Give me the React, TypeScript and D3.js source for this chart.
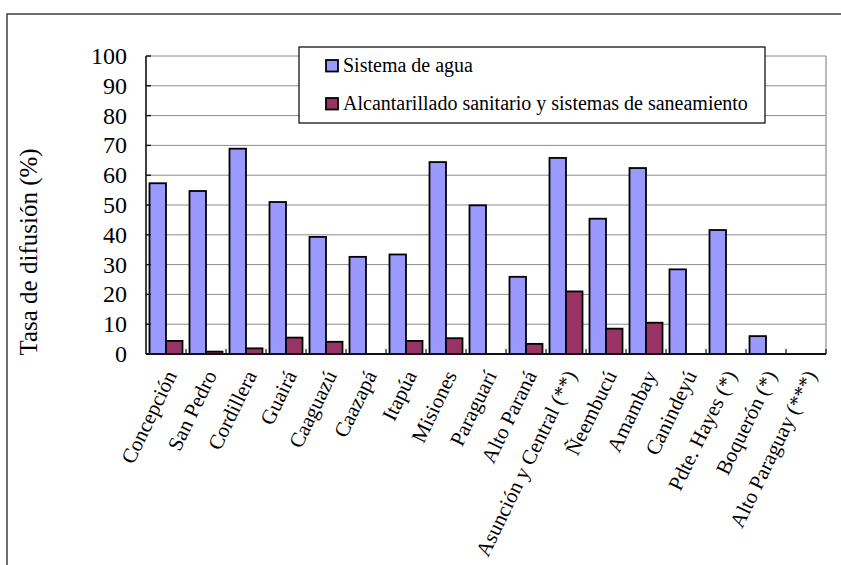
import React from "react";
import * as d3 from "d3";

const categories = [
  "Concepción",
  "San Pedro",
  "Cordillera",
  "Guairá",
  "Caaguazú",
  "Caazapá",
  "Itapúa",
  "Misiones",
  "Paraguarí",
  "Alto Paraná",
  "Asunción y Central (**)",
  "Ñeembucú",
  "Amambay",
  "Canindeyú",
  "Pdte. Hayes (*)",
  "Boquerón (*)",
  "Alto Paraguay (***)",
];

const seriesNames = [
  "Sistema de agua",
  "Alcantarillado sanitario y sistemas de saneamiento",
];

const aguaValues = [57.3, 54.7, 68.9, 51.0, 39.3, 32.6, 33.4, 64.4, 49.9, 25.9, 65.8, 45.4, 62.4, 28.4, 41.6, 6.0, 0];
const alcantValues = [4.4, 0.8, 1.9, 5.5, 4.1, 0, 4.4, 5.3, 0, 3.4, 21.0, 8.5, 10.5, 0, 0, 0, 0];

const yTicks = [0, 10, 20, 30, 40, 50, 60, 70, 80, 90, 100];
const colors = ["#9999FF", "#993366"];
const yTitle = "Tasa de difusión (%)";

const W = 841;
const H = 565;
const left = 146;
const right = 826;
const top = 56;
const bottom = 354;
const FONT = "Liberation Serif";
const ts = { fontFamily: FONT };

export default function App() {
  const x = d3.scaleBand<string>().domain(categories).range([left, right]).padding(0);
  const xs = d3.scaleBand<string>().domain(seriesNames).range([3.5, x.bandwidth() - 3.5]).padding(0);
  const y = d3.scaleLinear().domain([0, 100]).range([bottom, top]);
  const series = [aguaValues, alcantValues];

  return (
    <svg
      width={W}
      height={H}
      style={{ position: "absolute", left: 0, top: 0, display: "block", background: "#fff" }}
    >
      <rect x={0} y={0} width={W} height={H} fill="#fff" />
      {/* outer frame */}
      <rect x={7} y={14} width={W} height={H} fill="none" stroke="#333" strokeWidth={1.4} />

      {/* gridlines */}
      {yTicks.map((t) => (
        <line key={"g" + t} x1={left} x2={right} y1={y(t)} y2={y(t)} stroke="#8c8c8c" strokeWidth={1} />
      ))}
      {/* plot right border */}
      <line x1={right} x2={right} y1={top} y2={bottom} stroke="#8c8c8c" strokeWidth={1.2} />

      {/* bars */}
      {series.map((vals, si) =>
        categories.map((c, i) =>
          vals[i] > 0 ? (
            <rect
              key={si + "-" + c}
              x={(x(c) as number) + (xs(seriesNames[si]) as number)}
              y={y(vals[i])}
              width={xs.bandwidth()}
              height={bottom - y(vals[i])}
              fill={colors[si]}
              stroke="#000"
              strokeWidth={1.8}
            />
          ) : null
        )
      )}

      {/* y axis */}
      <line x1={left} x2={left} y1={top} y2={bottom} stroke="#111" strokeWidth={1.6} />
      {yTicks.map((t) => (
        <g key={"t" + t}>
          <line x1={left} x2={left + 5} y1={y(t)} y2={y(t)} stroke="#111" strokeWidth={1.4} />
          <text x={127} y={y(t)} textAnchor="end" dominantBaseline="central" fontSize={24} fill="#000" style={ts}>
            {t}
          </text>
        </g>
      ))}

      {/* x axis */}
      <line x1={left} x2={right} y1={bottom} y2={bottom} stroke="#111" strokeWidth={1.8} />
      {categories.map((c) => (
        <line
          key={"xt" + c}
          x1={(x(c) as number) + x.bandwidth()}
          x2={(x(c) as number) + x.bandwidth()}
          y1={bottom}
          y2={bottom - 5}
          stroke="#111"
          strokeWidth={1.2}
        />
      ))}
      {categories.map((c) => {
        const cx = (x(c) as number) + x.bandwidth() / 2 + 5;
        return (
          <text
            key={"xl" + c}
            transform={`translate(${cx},${372}) rotate(-64)`}
            textAnchor="end"
            dominantBaseline="central"
            fontSize={21}
            fill="#000"
            style={ts}
          >
            {c}
          </text>
        );
      })}

      {/* y title */}
      <text transform={`translate(37,${252}) rotate(-90)`} textAnchor="middle" fontSize={25} fill="#000" style={ts}>
        {yTitle}
      </text>

      {/* legend */}
      <rect x={299} y={47} width={466} height={76} fill="#fff" stroke="#000" strokeWidth={1.2} />
      {seriesNames.map((s, i) => (
        <g key={"lg" + s}>
          <rect
            x={326}
            y={60 + i * 38}
            width={12}
            height={11.5}
            fill={colors[i]}
            stroke="#000"
            strokeWidth={1.8}
          />
          <text x={343} y={71.5 + i * 38} fontSize={20} fill="#000" style={ts}>
            {s}
          </text>
        </g>
      ))}
    </svg>
  );
}
